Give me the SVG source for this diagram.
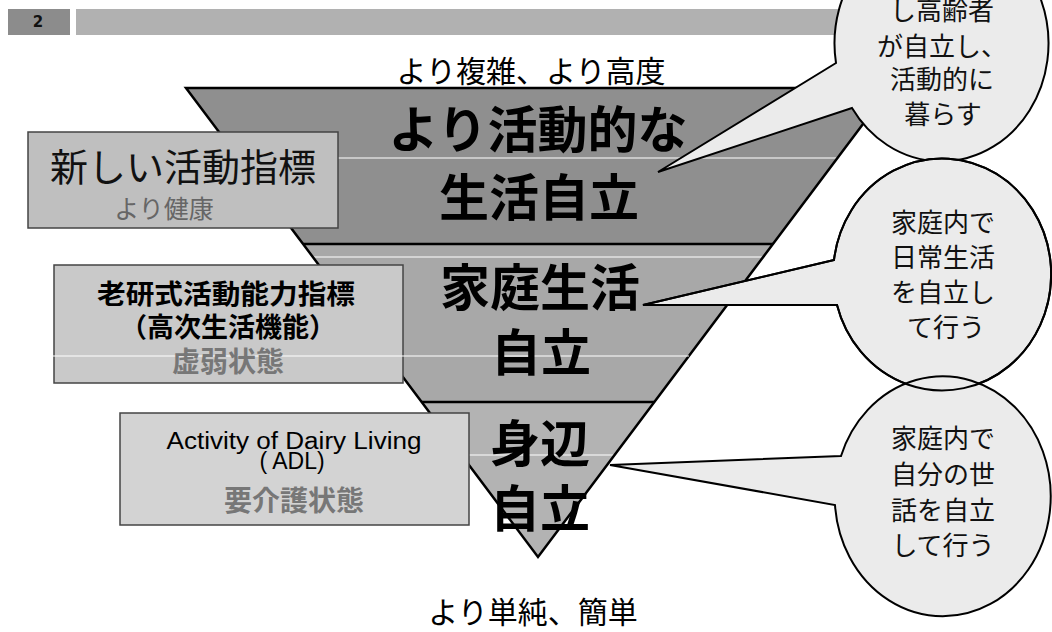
<svg xmlns="http://www.w3.org/2000/svg" xmlns:xlink="http://www.w3.org/1999/xlink" width="1052" height="632" viewBox="0 0 1052 632">
<style>
.jp{font-family:"Noto Sans CJK JP","Noto Sans",sans-serif;}
.big{font-size:50px;font-weight:bold;fill:#000;text-anchor:middle;}
.lbl{font-size:30px;fill:#000;text-anchor:middle;}
.call{font-size:26px;fill:#111;text-anchor:middle;}
.box{stroke:#444;stroke-width:1.5;}
.bubble{fill:#ebebeb;stroke:#000;stroke-width:2;stroke-linejoin:miter;}
.wl{stroke:#fff;stroke-width:1.2;}
.sep{stroke:#000;stroke-width:2.5;}
.en{font-family:"Liberation Sans",Arial,sans-serif;font-size:23px;fill:#000;text-anchor:middle;}
</style>
<defs>
<path id="c2shape" d="M 834,260 L 643,305 L 837,305 A 109 116 0 1 0 834,260 Z"/>
</defs>
<rect width="1052" height="632" fill="#fff"/>
<g id="header">
<rect x="8" y="9" width="62" height="26" fill="#8c8c8c"/>
<rect x="76" y="9" width="780" height="26" fill="#b1b1b1"/>
<text x="38" y="27" font-family="DejaVu Sans,sans-serif" font-size="15" font-weight="bold" fill="#111" text-anchor="middle">2</text>
</g>
<g id="top-label"><text class="jp lbl" x="531" y="82">より複雑、より高度</text></g>
<g id="bottom-label"><text class="jp lbl" x="533" y="623">より単純、簡単</text></g>
<g id="pyramid">
<polygon points="186,88 890,88 773,244 303,244" fill="#8f8f8f"/>
<polygon points="303,244 773,244 654,402 422,402" fill="#a8a8a8"/>
<polygon points="422,402 654,402 538,557" fill="#b3b3b3"/>
<line class="wl" x1="18" y1="158" x2="838" y2="158"/>
<line class="wl" x1="300" y1="257" x2="764" y2="257"/>
<line class="wl" x1="112" y1="455" x2="615" y2="455"/>
<line class="sep" x1="303" y1="244" x2="773" y2="244"/>
<line class="sep" x1="422" y1="402" x2="654" y2="402"/>
<polygon points="186,88 890,88 538,557" fill="none" stroke="#000" stroke-width="2.5" stroke-linejoin="miter"/>
</g>
<g id="box1">
<rect class="box" x="28" y="132" width="310" height="96" fill="#bfbfbf"/>
<text class="jp" x="183" y="181" font-size="38" fill="#111" text-anchor="middle">新しい活動指標</text>
<text class="jp" x="164" y="218" font-size="25" fill="#666" text-anchor="middle">より健康</text>
</g>
<g id="box2">
<rect class="box" x="54" y="265" width="349" height="118" fill="#c9c9c9"/>
<line class="wl" x1="40" y1="356" x2="689" y2="356"/>
<text class="jp" x="226" y="304" font-size="27" font-weight="bold" fill="#000" text-anchor="middle" textLength="258" lengthAdjust="spacingAndGlyphs">老研式活動能力指標</text>
<text class="jp" x="228" y="337" font-size="27" font-weight="bold" fill="#000" text-anchor="middle">（高次生活機能）</text>
<text class="jp" x="228" y="372" font-size="28" font-weight="bold" fill="#777" text-anchor="middle">虚弱状態</text>
</g>
<g id="box3">
<rect class="box" x="120" y="413" width="349" height="112" fill="#d3d3d3"/>
<text class="en" x="294" y="449" textLength="255" lengthAdjust="spacingAndGlyphs">Activity of Dairy Living</text>
<text class="en" x="292" y="469">( ADL)</text>
<text class="jp" x="294" y="511" font-size="28" font-weight="bold" fill="#777" text-anchor="middle">要介護状態</text>
</g>
<g id="pyramid-text">
<text class="jp big" x="538" y="148" font-size="49">より活動的な</text>
<text class="jp big" x="539" y="216">生活自立</text>
<text class="jp big" x="540" y="306">家庭生活</text>
<text class="jp big" x="541" y="371">自立</text>
<text class="jp big" x="540" y="462">身辺</text>
<text class="jp big" x="540" y="527">自立</text>
</g>
<g id="connectors"></g>
<g id="callout1">
<path class="bubble" d="M 836,63 L 658,172 L 852,108 A 107 118 0 1 0 836,63 Z"/>
<text class="jp call" x="942" y="20">し高齢者</text>
<text class="jp call" x="942" y="56">が自立し、</text>
<text class="jp call" x="942" y="89">活動的に</text>
<text class="jp call" x="943" y="124">暮らす</text>
</g>
<g id="callout2">
<use xlink:href="#c2shape" class="bubble"/>
<text class="jp call" x="943" y="232">家庭内で</text>
<text class="jp call" x="943" y="267">日常生活</text>
<text class="jp call" x="943" y="302">を自立し</text>
<text class="jp call" x="946" y="337">て行う</text>
</g>
<g id="callout3">
<path class="bubble" d="M 841,456 L 610,465 L 835,505 A 108 120 0 1 0 841,456 Z"/>
<use xlink:href="#c2shape" fill="none" stroke="#000" stroke-width="2"/>
<text class="jp call" x="943" y="448">家庭内で</text>
<text class="jp call" x="943" y="484">自分の世</text>
<text class="jp call" x="943" y="520">話を自立</text>
<text class="jp call" x="943" y="555">して行う</text>
</g>
</svg>
